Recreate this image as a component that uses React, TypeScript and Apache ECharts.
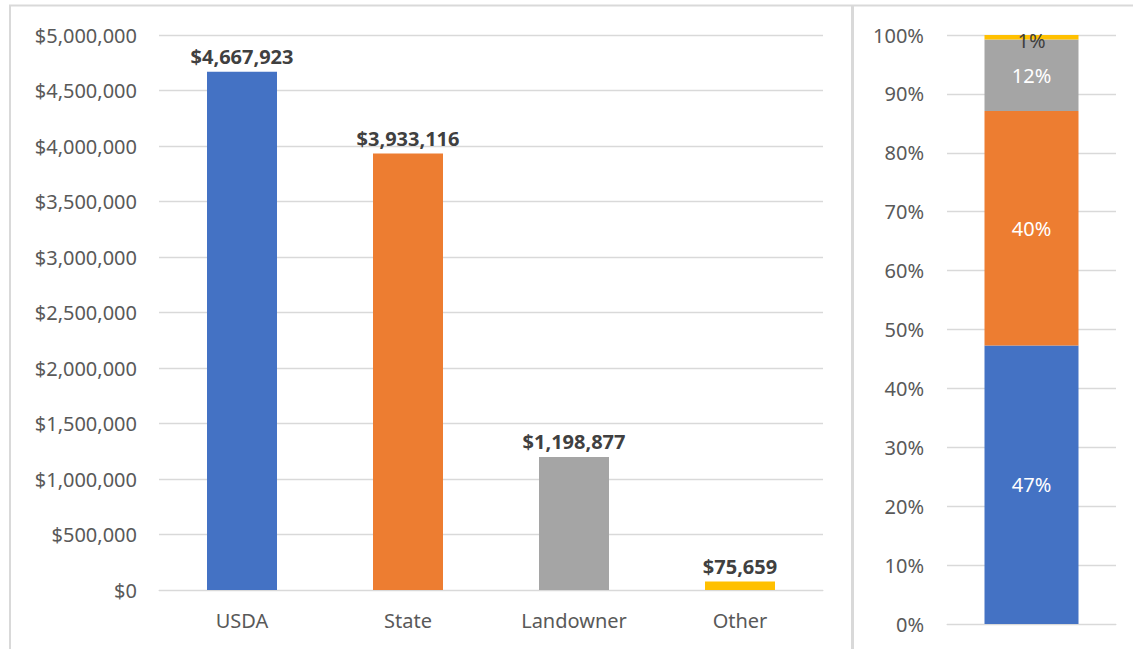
import React, { useEffect, useRef } from "react";
import * as echarts from "echarts";

const categories = ["USDA", "State", "Landowner", "Other"];
const amounts = [4667923, 3933116, 1198877, 75659];
const colors = ["#4472C4", "#ED7D31", "#A5A5A5", "#FFC000"];
const shareLabelColors = ["#ffffff", "#ffffff", "#ffffff", "#404040"];

const FONT = "'Noto Sans', sans-serif";
const FS = 20;

function money(v: number) {
  return "$" + Math.round(v).toLocaleString("en-US");
}

export default function App() {
  const ref = useRef<HTMLDivElement>(null);
  useEffect(() => {
    if (!ref.current) return;
    const chart = echarts.init(ref.current, null, { renderer: "svg" });
    const total = amounts.reduce((a, b) => a + b, 0);
    const shares = amounts.map((v) => (v / total) * 100);
    const border = "#d9d9d9";
    chart.setOption({
      animation: false,
      textStyle: { fontFamily: FONT },
      grid: [
        { left: 159, right: 310, top: 35, bottom: 59 },
        { left: 947, right: 17, top: 35, bottom: 25 },
      ],
      xAxis: [
        {
          type: "category",
          gridIndex: 0,
          data: categories,
          axisLine: { show: true, lineStyle: { color: border } },
          axisTick: { show: false },
          axisLabel: { color: "#595959", fontSize: FS, margin: 20, fontFamily: FONT },
        },
        {
          type: "category",
          gridIndex: 1,
          data: [""],
          axisLine: { show: true, lineStyle: { color: border } },
          axisTick: { show: false },
          axisLabel: { show: false },
        },
      ],
      yAxis: [
        {
          type: "value",
          gridIndex: 0,
          min: 0,
          max: 5000000,
          interval: 500000,
          axisLine: { show: false },
          axisTick: { show: false },
          splitLine: { lineStyle: { color: border, width: 1.3 } },
          axisLabel: {
            color: "#595959",
            fontSize: FS,
            margin: 22,
            fontFamily: FONT,
            formatter: (v: number) => money(v),
          },
        },
        {
          type: "value",
          gridIndex: 1,
          min: 0,
          max: 100,
          interval: 10,
          axisLine: { show: false },
          axisTick: { show: false },
          splitLine: { lineStyle: { color: border, width: 1.3 } },
          axisLabel: {
            color: "#595959",
            fontSize: FS,
            margin: 23,
            fontFamily: FONT,
            formatter: "{value}%",
          },
        },
      ],
      series: [
        {
          type: "bar",
          xAxisIndex: 0,
          yAxisIndex: 0,
          barWidth: 70,
          data: amounts.map((v, i) => ({ value: v, itemStyle: { color: colors[i] } })),
          label: {
            show: true,
            position: "top",
            distance: 5,
            color: "#404040",
            fontWeight: "bold",
            fontSize: FS,
            fontFamily: FONT,
            formatter: (p: any) => money(p.value),
          },
        },
        ...categories.map((c, i) => ({
          type: "bar",
          name: c,
          xAxisIndex: 1,
          yAxisIndex: 1,
          stack: "share",
          barWidth: 94,
          data: [shares[i]],
          itemStyle: { color: colors[i] },
          label: {
            show: true,
            position: "inside",
            offset: i === 3 ? [0, 3] : [0, 0],
            color: shareLabelColors[i],
            fontSize: FS,
            fontFamily: FONT,
            formatter: (p: any) => Math.round(p.value) + "%",
          },
        })),
      ],
      graphic: [
        { type: "line", shape: { x1: 9, y1: 5.5, x2: 1133, y2: 5.5 }, style: { stroke: border, lineWidth: 2 } },
        { type: "line", shape: { x1: 10, y1: 5, x2: 10, y2: 649 }, style: { stroke: border, lineWidth: 2 } },
        { type: "line", shape: { x1: 852.5, y1: 5, x2: 852.5, y2: 649 }, style: { stroke: border, lineWidth: 3 } },
      ],
    });
    return () => chart.dispose();
  }, []);
  return (
    <div
      ref={ref}
      style={{ position: "absolute", left: 0, top: 0, width: 1133, height: 649, background: "#fff" }}
    />
  );
}
